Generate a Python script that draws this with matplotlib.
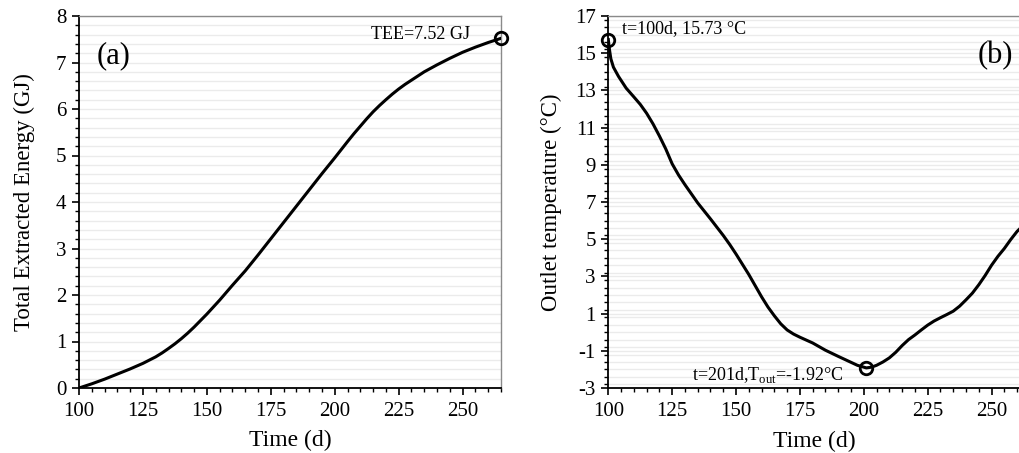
import matplotlib
matplotlib.use("Agg")
import matplotlib.pyplot as plt
from matplotlib.ticker import MultipleLocator

plt.rcParams['font.family'] = ['Liberation Serif', 'DejaVu Serif']
plt.rcParams['mathtext.fontset'] = 'custom'
plt.rcParams['mathtext.rm'] = 'Liberation Serif'
plt.rcParams['axes.unicode_minus'] = False

# ---- data (a): total extracted energy ----
time_a = [100, 105, 110, 115, 120, 125, 127.5, 130, 132.5, 135, 137.5, 140,
          142.5, 145, 147.5, 150, 152.5, 155, 160, 165, 170, 175, 180, 185, 190,
          195, 200, 205, 207.5, 210, 212.5, 215, 217.5, 220, 222.5, 225, 227.5,
          230, 232.5, 235, 240, 245, 250, 255, 260, 265]
energy_gj = [0.00, 0.09, 0.19, 0.30, 0.41, 0.53, 0.60, 0.67, 0.755, 0.85, 0.95,
             1.06, 1.18, 1.31, 1.45, 1.59, 1.74, 1.89, 2.21, 2.52, 2.86, 3.21,
             3.56, 3.91, 4.26, 4.61, 4.95, 5.30, 5.47, 5.63, 5.79, 5.94, 6.075,
             6.20, 6.32, 6.43, 6.53, 6.62, 6.71, 6.80, 6.95, 7.09, 7.22, 7.33,
             7.43, 7.52]

# ---- data (b): outlet temperature ----
time_b = [100, 100.5, 101, 102, 104, 107, 110, 112.5, 115, 117.5, 120, 122.5,
          125, 127.5, 130, 135, 140, 145, 147.5, 150, 152.5, 155, 157.5, 160,
          162.5, 165, 167.5, 170, 172.5, 175, 180, 185, 190, 195, 197.5, 201,
          203, 205, 207.5, 210, 212.5, 215, 217.5, 220, 222.5, 225, 227.5, 230,
          232.5, 235, 237.5, 240, 242.5, 245, 247.5, 250, 252.5, 255, 257.5,
          260, 261.5]
t_out = [15.73, 15.15, 14.7, 14.25, 13.75, 13.12, 12.65, 12.25, 11.77, 11.2,
         10.55, 9.85, 9.05, 8.45, 7.93, 6.95, 6.09, 5.2, 4.72, 4.2, 3.65, 3.1,
         2.5, 1.9, 1.35, 0.88, 0.45, 0.12, -0.1, -0.27, -0.58, -0.97, -1.3,
         -1.62, -1.78, -1.92, -1.88, -1.78, -1.6, -1.38, -1.08, -0.72, -0.4,
         -0.15, 0.12, 0.38, 0.6, 0.78, 0.95, 1.13, 1.4, 1.74, 2.1, 2.55, 3.05,
         3.6, 4.08, 4.5, 4.98, 5.42, 5.62]

tee_point = (265, 7.52)
tmax_point = (100, 15.73)
tmin_point = (201, -1.92)

W, H = 1020, 453
fig = plt.figure(figsize=(W / 100, H / 100), dpi=100)

def px_axes(x0, x1, ytop, ybot):
    return fig.add_axes([x0 / W, (H - ybot) / H, (x1 - x0) / W, (ybot - ytop) / H])

ax1 = px_axes(79, 501, 16, 388)
ax2 = px_axes(608.3, 1021, 16, 388)

def style(ax, ymin, ymax, ymaj, ymin_step):
    ax.set_ylim(ymin, ymax)
    ax.xaxis.set_major_locator(MultipleLocator(25))
    ax.xaxis.set_minor_locator(MultipleLocator(5))
    ax.yaxis.set_major_locator(MultipleLocator(ymaj))
    ax.yaxis.set_minor_locator(MultipleLocator(ymin_step))
    ax.grid(True, which='both', axis='y', color='#ebebeb', lw=1.0, zorder=0)
    ax.set_axisbelow(True)
    for s in ('left', 'bottom'):
        ax.spines[s].set_color('black')
        ax.spines[s].set_linewidth(1.3)
    for s in ('top', 'right'):
        ax.spines[s].set_color('#8a8a8a')
        ax.spines[s].set_linewidth(1.0)
    ax.tick_params(which='major', direction='out', length=5, width=1.2,
                   labelsize=15, color='black')
    ax.tick_params(which='minor', direction='out', length=3, width=1.0, color='black')
    ax.tick_params(axis='y', pad=4)
    ax.tick_params(axis='x', pad=5)

# ---- panel (a) ----
ax1.plot(time_a, energy_gj, color='black', lw=2.2, zorder=3, solid_joinstyle='round')
ax1.plot(*tee_point, 'o', ms=9, mfc='none', mec='black', mew=2, zorder=4, clip_on=False)
ax1.set_xlim(100, 265)
style(ax1, 0, 8, 1, 0.2)
ax1.set_xlabel('Time (d)', fontsize=17, va='center')
ax1.set_ylabel('Total Extracted Energy (GJ)', fontsize=16.5, va='center')
ax1.xaxis.set_label_coords(0.5, -0.142)
ax1.yaxis.set_label_coords(-0.13, 0.5)
ax1.text(253, 7.6, 'TEE=7.52 GJ', fontsize=13, ha='right', va='center')
ax1.text(107, 7.14, '(a)', fontsize=22, ha='left', va='center')

# ---- panel (b) ----
ax2.plot(time_b, t_out, color='black', lw=2.2, zorder=3, solid_joinstyle='round')
ax2.plot(*tmax_point, 'o', ms=9, mfc='none', mec='black', mew=2, zorder=4, clip_on=False)
ax2.plot(*tmin_point, 'o', ms=9, mfc='none', mec='black', mew=2, zorder=4)
ax2.set_xlim(100, 100 + (1021 - 608.3) / 2.555)
style(ax2, -3, 17, 2, 0.4)
ax2.set_yticks(range(-3, 18, 2))
ax2.set_xlabel('Time (d)', fontsize=17, va='center')
ax2.set_ylabel('Outlet temperature (°C)', fontsize=16.5, va='center')
ax2.xaxis.set_label_coords(0.5 * (1020 - 608.3) / (1021 - 608.3), -0.145)
ax2.yaxis.set_label_coords(-0.137, 0.5)
ax2.text(105.2, 16.34, 't=100d, 15.73 °C', fontsize=13, ha='left', va='center')
ax2.text(132.6, -2.30, r't=201d,T$_{\mathrm{out}}$=-1.92°C', fontsize=13, ha='left', va='center')
ax2.text(258.4, 14.85, '(b)', fontsize=22, ha='right', va='center')

fig.savefig('out.png', dpi=100)
